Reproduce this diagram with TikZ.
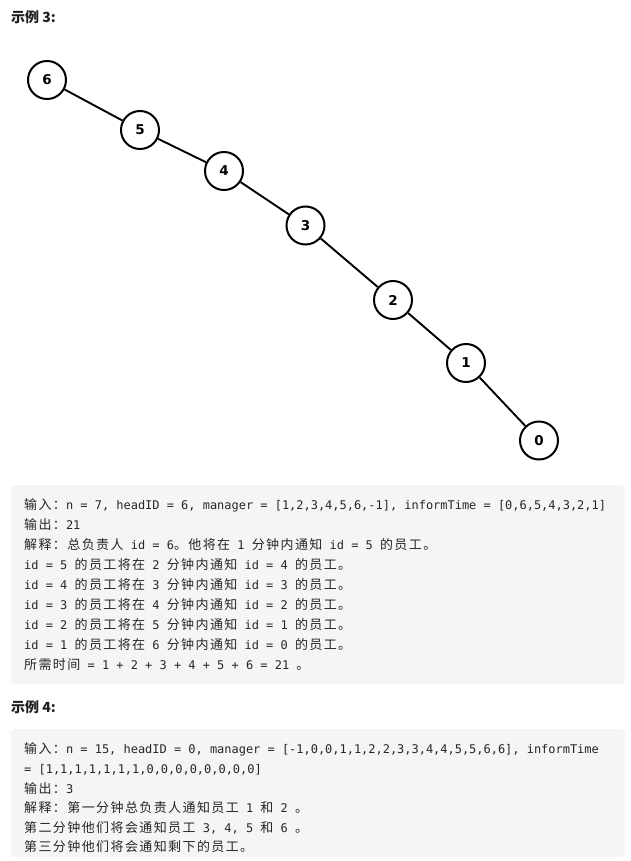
\documentclass[tikz,border=0pt]{standalone}
\usepackage{fontspec}
\newfontfamily\monofam{DejaVu Sans Mono}
\newfontfamily\zhfont{Noto Sans CJK SC}[LetterSpace=10.8]
\newfontfamily\zhhead{Noto Sans CJK SC}
\newfontfamily\numfont{DejaVu Sans}
\newcommand\zh[1]{{\fontsize{13}{15}\zhfont #1}}
\definecolor{boxbg}{HTML}{F5F5F5}
\definecolor{codetext}{HTML}{262626}
\definecolor{headtext}{HTML}{1E1E1E}
\tikzset{
  treenode/.style={circle, draw=black, line width=2pt, minimum size=38pt, inner sep=0pt,
    font=\numfont\bfseries\fontsize{13.5}{15}\selectfont, fill=white},
  edge/.style={line width=1.9pt, black},
  codeline/.style={anchor=base west, inner sep=0pt, text=codetext,
    font=\monofam\fontsize{11.96}{14}\selectfont},
  headline/.style={anchor=base west, inner sep=0pt, text=headtext,
    font=\zhhead\bfseries\fontsize{14}{16}\selectfont},
  codebox/.style={fill=boxbg, rounded corners=4pt}
}
\begin{document}
\begin{tikzpicture}[x=1pt,y=-1pt]
\useasboundingbox (0,0) rectangle (630,861);
% headers
\node[headline] (h3) at (11,23) {示例 3:};
% tree
\node[treenode] (n6) at (47,80) {6};
\node[treenode] (n5) at (140,130) {5};
\node[treenode] (n4) at (224,171) {4};
\node[treenode] (n3) at (305.5,225.5) {3};
\node[treenode] (n2) at (393,300) {2};
\node[treenode] (n1) at (466,363) {1};
\node[treenode] (n0) at (539,440.5) {0};
\draw[edge] (n6) -- (n5);
\draw[edge] (n5) -- (n4);
\draw[edge] (n4) -- (n3);
\draw[edge] (n3) -- (n2);
\draw[edge] (n2) -- (n1);
\draw[edge] (n1) -- (n0);
% example 3 box
\fill[codebox] (11,485) rectangle (625,684);
\node[codeline] (a1) at (24,509) {\zh{输入：}n = 7, headID = 6, manager = [1,2,3,4,5,6,-1], informTime = [0,6,5,4,3,2,1]};
\node[codeline] (a2) at (24,529) {\zh{输出：}21};
\node[codeline] (a3) at (24,549) {\zh{解释：总负责人} id = 6\zh{。他将在} 1 \zh{分钟内通知} id = 5 \zh{的员工。}};
\node[codeline] (a4) at (24,569) {id = 5 \zh{的员工将在} 2 \zh{分钟内通知} id = 4 \zh{的员工。}};
\node[codeline] (a5) at (24,589) {id = 4 \zh{的员工将在} 3 \zh{分钟内通知} id = 3 \zh{的员工。}};
\node[codeline] (a6) at (24,609) {id = 3 \zh{的员工将在} 4 \zh{分钟内通知} id = 2 \zh{的员工。}};
\node[codeline] (a7) at (24,629) {id = 2 \zh{的员工将在} 5 \zh{分钟内通知} id = 1 \zh{的员工。}};
\node[codeline] (a8) at (24,649) {id = 1 \zh{的员工将在} 6 \zh{分钟内通知} id = 0 \zh{的员工。}};
\node[codeline] (a9) at (24,669) {\zh{所需时间} = 1 + 2 + 3 + 4 + 5 + 6 = 21 \zh{。}};
% example 4
\node[headline] (h4) at (11,712) {示例 4:};
\fill[codebox] (11,729) rectangle (625,857);
\node[codeline] (b1) at (24,753) {\zh{输入：}n = 15, headID = 0, manager = [-1,0,0,1,1,2,2,3,3,4,4,5,5,6,6], informTime};
\node[codeline] (b2) at (24,773) {= [1,1,1,1,1,1,1,0,0,0,0,0,0,0,0]};
\node[codeline] (b3) at (24,793) {\zh{输出：}3};
\node[codeline] (b4) at (24,812) {\zh{解释：第一分钟总负责人通知员工} 1 \zh{和} 2 \zh{。}};
\node[codeline] (b5) at (24,832) {\zh{第二分钟他们将会通知员工} 3, 4, 5 \zh{和} 6 \zh{。}};
\node[codeline] (b6) at (24,851) {\zh{第三分钟他们将会通知剩下的员工。}};
\end{tikzpicture}
\end{document}
